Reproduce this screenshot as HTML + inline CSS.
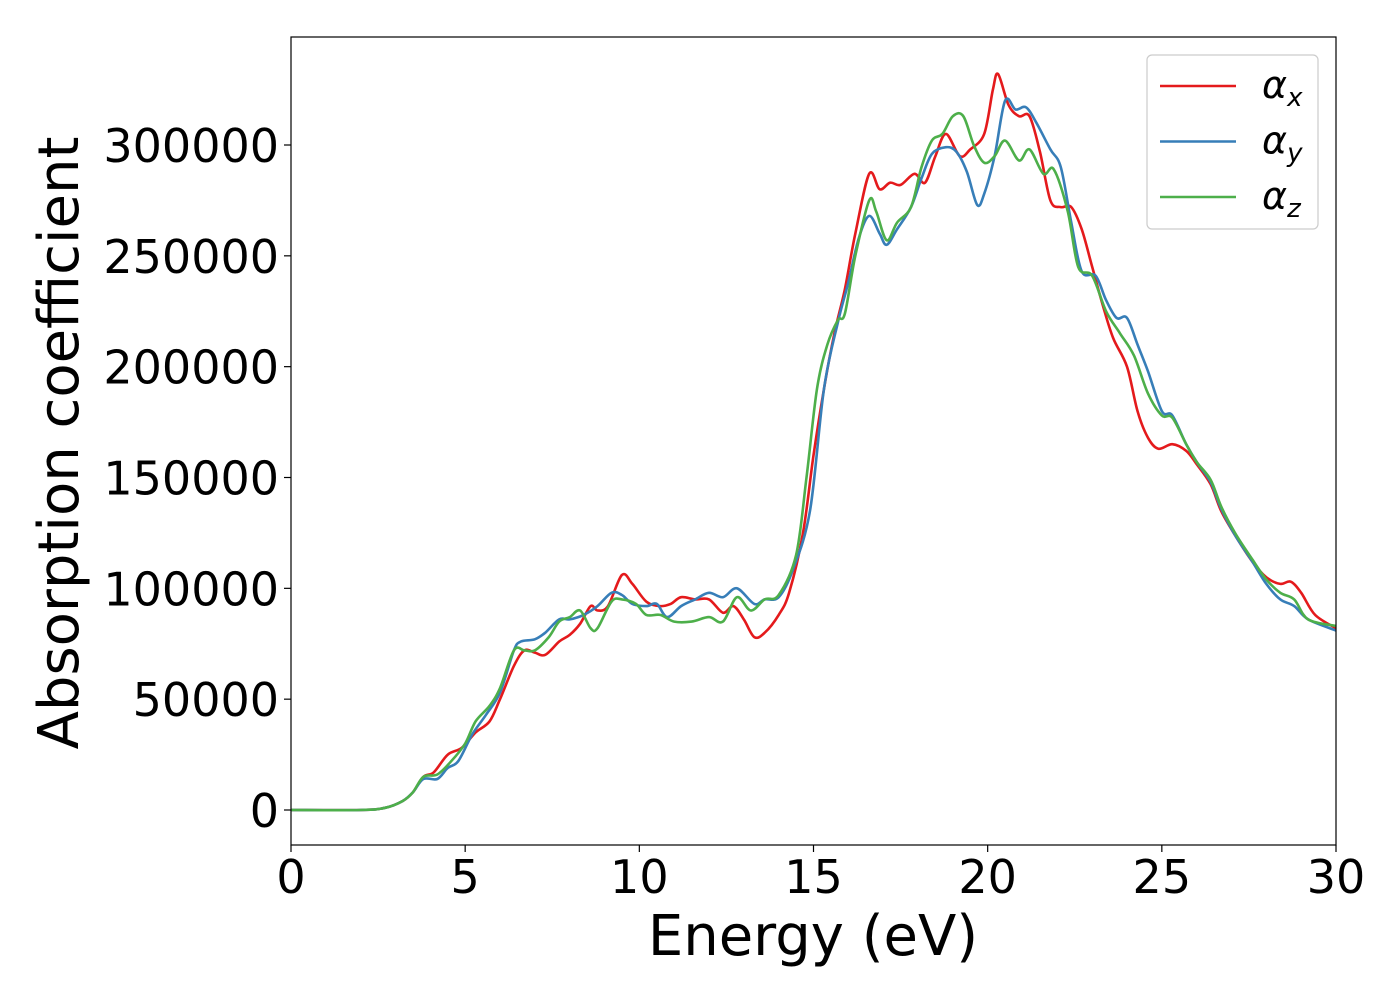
<!DOCTYPE html>
<html><head><meta charset="utf-8"><style>
body{margin:0;background:#fff}
svg text{font-family:"DejaVu Sans","Liberation Sans",sans-serif}
</style></head><body>
<svg id="chart" width="1400" height="1000" xmlns="http://www.w3.org/2000/svg">
<g id="plot"></g>
</svg>
<script>
const xTicks=[0,5,10,15,20,25,30];
const yTicks=[0,50000,100000,150000,200000,250000,300000];
const seriesNames=["x","y","z"];
const seriesColors=["#e41a1c","#377eb8","#4daf4a"];
const ex=[0,2,2.7,3.2,3.5,3.8,4.1,4.5,4.9,5.3,5.7,6.0,6.4,6.7,7.0,7.3,7.7,8.0,8.3,8.6,8.8,9.1,9.5,9.8,10.2,10.6,10.9,11.2,11.6,12.0,12.4,12.7,13.0,13.3,13.6,14.0,14.3,14.7,15.0,15.3,15.6,15.9,16.2,16.6,16.9,17.2,17.5,17.9,18.2,18.5,18.8,19.2,19.5,19.9,20.15,20.3,20.6,20.9,21.2,21.5,21.8,22.1,22.4,22.7,23.0,23.3,23.6,24.0,24.3,24.6,24.9,25.3,25.7,26.0,26.4,26.7,27.1,27.6,28.0,28.4,28.7,29.0,29.4,30.0];
const vx=[0,0,1,4,8,15,17,25,28,35,40,50,65,72,71,70,76,79,84,92,90,92,106,102,94,92,93,96,95,95,89,92,86,78,80,88,98,125,160,190,215,235,260,287,280,283,282,287,283,295,305,295,298,305,325,332,318,313,313,297,275,272,272,262,245,228,213,200,180,168,163,165,162,156,147,135,124,112,105,102,103,98,88,82];
const ey=[0,2,2.7,3.2,3.5,3.8,4.2,4.5,4.8,5.2,5.6,6.0,6.4,6.6,7.0,7.3,7.7,8.0,8.4,8.8,9.2,9.5,9.8,10.2,10.5,10.8,11.2,11.6,12.0,12.4,12.8,13.3,13.6,14.0,14.4,14.9,15.3,15.7,16.0,16.3,16.6,16.9,17.1,17.4,17.8,18.1,18.4,18.8,19.1,19.4,19.7,19.9,20.2,20.5,20.8,21.1,21.4,21.8,22.1,22.4,22.7,23.1,23.4,23.7,24.0,24.3,24.6,25.0,25.3,25.7,26.0,26.4,26.7,27.1,27.6,28.0,28.4,28.8,29.2,30.0];
const vy=[0,0,1,4,8,14,14,19,22,34,43,53,72,76,77,80,86,86,88,92,98,97,93,92,93,87,92,95,98,96,100,93,95,96,108,135,190,220,238,258,268,260,255,262,272,285,296,299,297,288,273,278,295,320,316,317,310,298,290,265,243,241,230,222,222,210,198,180,178,165,157,148,136,124,112,102,95,92,86,81];
const ez=[0,2,2.7,3.2,3.5,3.8,4.2,4.6,5.0,5.3,5.7,6.0,6.4,6.7,7.0,7.4,7.7,8.0,8.3,8.6,8.8,9.2,9.5,9.9,10.2,10.6,11.0,11.5,12.0,12.4,12.8,13.2,13.6,14.0,14.5,14.8,15.1,15.4,15.7,15.9,16.2,16.6,16.8,17.1,17.4,17.8,18.1,18.4,18.7,19.0,19.3,19.6,19.9,20.2,20.5,20.9,21.2,21.6,21.9,22.3,22.6,23.0,23.4,23.8,24.2,24.6,25.0,25.3,25.7,26.0,26.4,26.7,27.1,27.6,28.0,28.4,28.8,29.2,30.0];
const vz=[0,0,1,4,8,15,16,22,30,40,47,55,72,72,72,78,85,87,90,82,82,94,95,93,88,88,85,85,87,85,96,90,95,97,115,150,190,210,221,224,250,275,270,257,265,272,290,302,305,313,313,300,292,295,302,293,298,287,289,270,245,241,225,215,205,188,178,177,165,157,149,137,125,113,104,98,95,86,83];
const L=291,R=1336,T=37,B=845;
const X=v=>L+(v-0)/30*(R-L);
const Y=v=>810-v/300000*665;
const ns="http://www.w3.org/2000/svg";
const svg=document.getElementById('chart');
function mk(t,a,p){const e=document.createElementNS(ns,t);for(const k in a)e.setAttribute(k,a[k]);(p||svg).appendChild(e);return e;}
function path(xs,vs){const p=xs.map((x,i)=>[X(x),Y(vs[i]*1000)]);let d="M"+p[0][0]+","+p[0][1];
for(let i=0;i<p.length-1;i++){const p0=p[Math.max(0,i-1)],p1=p[i],p2=p[i+1],p3=p[Math.min(p.length-1,i+2)];
const c1=[p1[0]+(p2[0]-p0[0])/6,p1[1]+(p2[1]-p0[1])/6],c2=[p2[0]-(p3[0]-p1[0])/6,p2[1]-(p3[1]-p1[1])/6];
d+=`C${c1[0].toFixed(1)},${c1[1].toFixed(1)} ${c2[0].toFixed(1)},${c2[1].toFixed(1)} ${p2[0].toFixed(1)},${p2[1].toFixed(1)}`;}return d;}
const clip=mk('clipPath',{id:'cp'});mk('rect',{x:L,y:T,width:R-L,height:B-T},clip);
const data=[[ex,vx],[ey,vy],[ez,vz]];
data.forEach((s,i)=>{const e=mk('path',{d:path(s[0],s[1]),fill:'none',stroke:seriesColors[i],'stroke-width':2.6,'clip-path':'url(#cp)'});

});
const fr=mk('rect',{x:L,y:T,width:R-L,height:B-T,fill:'none',stroke:'#000','stroke-width':1.2});


xTicks.forEach(t=>{mk('line',{x1:X(t),x2:X(t),y1:B,y2:B+7,stroke:'#000','stroke-width':1.2});
const tx=mk('text',{x:X(t),y:893,'font-size':46,'text-anchor':'middle'});tx.textContent=t;

});
yTicks.forEach(t=>{mk('line',{x1:L-7,x2:L,y1:Y(t),y2:Y(t),stroke:'#000','stroke-width':1.2});
const tx=mk('text',{x:279,y:Y(t)+17,'font-size':46,'text-anchor':'end'});tx.textContent=t;

});
const xl=mk('text',{x:813,y:955,'font-size':56,'text-anchor':'middle'});xl.textContent='Energy (eV)';


const yl=mk('text',{x:0,y:0,'font-size':56,'text-anchor':'middle',transform:'translate(78,443) rotate(-90)'});yl.textContent='Absorption coefficient';


const lg=mk('g',{});


mk('rect',{x:1147,y:55,width:171,height:174,rx:5,fill:'#fff',stroke:'#ccc','stroke-width':1.2},lg);
seriesNames.forEach((n,i)=>{const y=86+i*55.5;
mk('line',{x1:1160,x2:1236,y1:y,y2:y,stroke:seriesColors[i],'stroke-width':2.6},lg);
const t=mk('text',{x:1262,y:y+12,'font-size':38,'font-style':'italic'},lg);
t.innerHTML='α<tspan font-size="26" dy="8">'+n+'</tspan>';

});
</script>
</body></html>
